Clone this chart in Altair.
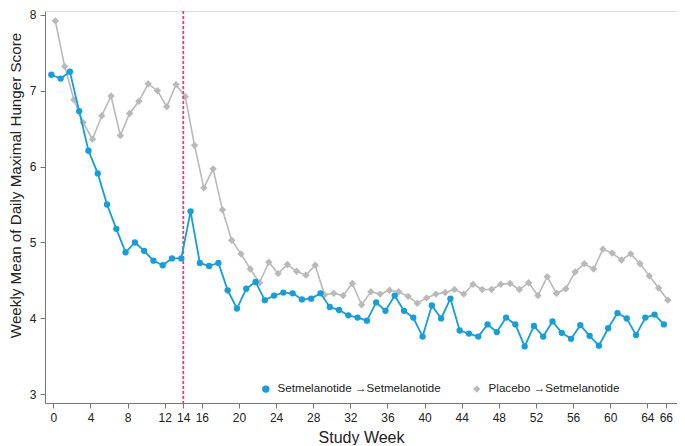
import altair as alt
import pandas as pd

weeks = list(range(67))
setmel = [7.21, 7.16, 7.25, 6.73, 6.21, 5.91, 5.50, 5.18, 4.87, 5.00,
          4.89, 4.76, 4.70, 4.79, 4.79, 5.41, 4.73, 4.69, 4.73, 4.37,
          4.13, 4.39, 4.48, 4.24, 4.30, 4.34, 4.33, 4.25, 4.26, 4.33,
          4.15, 4.11, 4.04, 4.01, 3.97, 4.21, 4.10, 4.30, 4.10, 4.01,
          3.76, 4.17, 4.00, 4.26, 3.84, 3.80, 3.76, 3.92, 3.82, 4.01,
          3.92, 3.63, 3.90, 3.76, 3.96, 3.81, 3.73, 3.91, 3.77, 3.64,
          3.87, 4.07, 4.00, 3.78, 4.01, 4.05, 3.92]
placebo = [7.92, 7.32, 6.88, 6.58, 6.36, 6.67, 6.93, 6.41, 6.70, 6.86,
           7.09, 7.00, 6.79, 7.08, 6.92, 6.28, 5.72, 5.97, 5.43, 5.03,
           4.85, 4.65, 4.47, 4.74, 4.59, 4.71, 4.62, 4.57, 4.70, 4.31,
           4.33, 4.30, 4.46, 4.18, 4.35, 4.32, 4.37, 4.35, 4.29, 4.20,
           4.27, 4.32, 4.34, 4.38, 4.32, 4.45, 4.38, 4.38, 4.45, 4.46,
           4.38, 4.47, 4.30, 4.55, 4.33, 4.39, 4.61, 4.72, 4.65, 4.91,
           4.86, 4.77, 4.85, 4.72, 4.56, 4.40, 4.24]
groups = ["Setmelanotide  \u2192Setmelanotide", "Placebo \u2192Setmelanotide"]
colors = ["#139fdb", "#b9b9b9"]
shapes = ["circle", "diamond"]
x_ticks = [0, 4, 8, 12, 14, 16, 20, 24, 28, 32, 36, 40, 44, 48, 52, 56, 60, 64, 66]
y_ticks = [3, 4, 5, 6, 7, 8]
switch_week = [14]

df = pd.DataFrame({
    "week": weeks + weeks,
    "score": setmel + placebo,
    "group": [groups[0]] * len(weeks) + [groups[1]] * len(weeks),
})
df_rule = pd.DataFrame({"week": switch_week})

FONT = "Liberation Sans"

x_axis = alt.Axis(values=x_ticks, title="Study Week", grid=False,
                  labelFontSize=12, titleFontSize=16, titleFontWeight="normal",
                  labelColor="#222", titleColor="#222", domainColor="#777",
                  tickColor="#777", tickSize=5, labelPadding=4, titlePadding=6,
                  labelFlush=False, labelOverlap=False)
x_scale = alt.Scale(domain=[-0.9, 67.2], nice=False, zero=False)
x_enc = alt.X("week:Q", scale=x_scale, axis=x_axis)
y_enc = alt.Y("score:Q",
              scale=alt.Scale(domain=[2.885, 8.05], nice=False, zero=False),
              axis=alt.Axis(values=y_ticks, title="Weekly Mean of Daily Maximal Hunger Score",
                            grid=False, labelFontSize=12, titleFontSize=15.2,
                            titleFontWeight="normal", labelColor="#222", titleColor="#222",
                            domainColor="#777", tickColor="#777", tickSize=5,
                            labelPadding=4, titlePadding=6, titleY=174))
color_enc = alt.Color("group:N", scale=alt.Scale(domain=groups, range=colors),
                      legend=alt.Legend(title=None, orient="none", legendX=215, legendY=372,
                                        direction="horizontal", labelFontSize=11.6,
                                        labelFont=FONT, labelColor="#222", labelLimit=400,
                                        symbolSize=55, columnPadding=27,
                                        symbolStrokeWidth=0, labelOffset=6))
shape_enc = alt.Shape("group:N", scale=alt.Scale(domain=groups, range=shapes), legend=None)

base = alt.Chart(df).encode(x=x_enc, y=y_enc, color=color_enc)

gray = base.transform_filter(alt.datum.group == groups[1])
blue = base.transform_filter(alt.datum.group == groups[0])

gray_line = gray.mark_line(strokeWidth=1.6, xOffset=2)
gray_pts = gray.mark_point(filled=True, size=55, opacity=1, xOffset=2).encode(shape=shape_enc)
blue_line = blue.mark_line(strokeWidth=1.8, xOffset=-2)
blue_pts = blue.mark_point(filled=True, size=40, opacity=1, xOffset=-2).encode(shape=shape_enc)

rule = alt.Chart(df_rule).mark_rule(color="#ec3a72", strokeDash=[3, 2], strokeWidth=1.8).encode(
    x=alt.X("week:Q", scale=x_scale, axis=x_axis)
)

chart = alt.layer(gray_line, gray_pts, rule, blue_line, blue_pts).properties(
    width=632, height=392, padding={"left": 0, "top": 0, "right": 0, "bottom": 0}
).configure_view(stroke=None).configure_axisX(labelOverlap=False).configure(font=FONT)

chart.save("out.html", embed_options={"renderer": "svg", "actions": False})
